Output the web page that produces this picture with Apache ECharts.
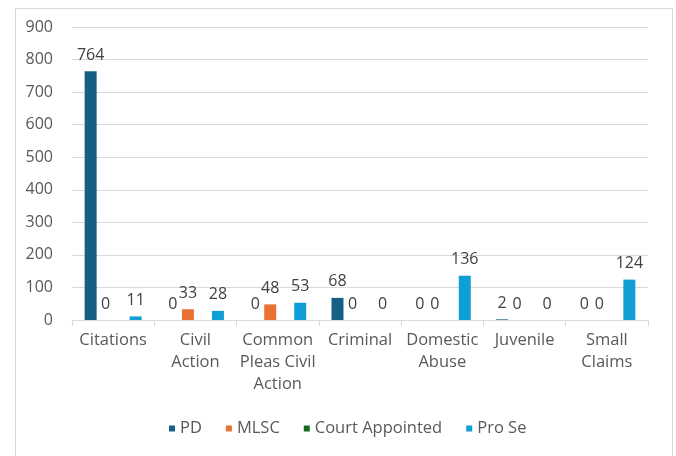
<!DOCTYPE html>
<html>
<head>
<meta charset="utf-8">
<script src="https://cdn.jsdelivr.net/npm/echarts@6/dist/echarts.min.js"></script>
<style>
  html, body { margin: 0; padding: 0; background: #fff; }
  #chart { width: 676px; height: 456px; }
</style>
</head>
<body>
<div id="chart"></div>
<script>
// Case categories (x axis)
const categories = [
  'Citations', 'Civil\nAction', 'Common\nPleas Civil\nAction', 'Criminal',
  'Domestic\nAbuse', 'Juvenile', 'Small\nClaims'
];
// Case counts by representation type
const pd             = [764, 0, 0, 68, 0, 2, 0];
const mlsc           = [0, 33, 48, 0, 0, 0, 0];
const courtAppointed = [null, null, null, null, null, null, null];
const proSe          = [11, 28, 53, 0, 136, 0, 124];
const yTicks = { min: 0, max: 900, interval: 100 };

const FONT = '"Open Sans", sans-serif';
const labelStyle = {
  show: true, position: 'top', distance: 8,
  color: '#404040', fontSize: 16, fontFamily: FONT
};

function bar(name, data, color, withLabel) {
  return {
    name, type: 'bar', data,
    barWidth: 12, barGap: '25%',
    itemStyle: { color },
    label: withLabel ? labelStyle : { show: false }
  };
}

const chart = echarts.init(document.getElementById('chart'), null, { renderer: 'canvas' });
chart.setOption({
  animation: false,
  backgroundColor: '#fff',
  textStyle: { fontFamily: FONT },
  graphic: [{
    type: 'rect', left: 13, top: 6,
    shape: { width: 657, height: 460 },
    style: { fill: 'none', stroke: '#d9d9d9', lineWidth: 1 }
  }],
  grid: { left: 72, right: 28, top: 27, bottom: 136 },
  legend: {
    bottom: 14, left: 164,
    itemWidth: 6, itemHeight: 6, itemGap: 24,
    icon: 'rect',
    textStyle: { color: '#595959', fontSize: 16.5, fontFamily: FONT },
    data: ['PD', 'MLSC', 'Court Appointed', 'Pro Se']
  },
  xAxis: {
    type: 'category', data: categories,
    axisLine: { lineStyle: { color: '#d9d9d9' } },
    axisTick: { show: true, length: 6, lineStyle: { color: '#d9d9d9' } },
    axisLabel: { color: '#595959', fontSize: 16.5, fontFamily: FONT, lineHeight: 22, margin: 9, interval: 0 }
  },
  yAxis: {
    type: 'value', min: yTicks.min, max: yTicks.max, interval: yTicks.interval,
    axisLine: { show: false }, axisTick: { show: false },
    axisLabel: { color: '#595959', fontSize: 16, fontFamily: FONT, margin: 19 },
    splitLine: { lineStyle: { color: '#d9d9d9' } }
  },
  series: [
    bar('PD', pd, '#156082', true),
    bar('MLSC', mlsc, '#E97132', true),
    bar('Court Appointed', courtAppointed, '#196B24', false),
    bar('Pro Se', proSe, '#0F9ED5', true)
  ]
});
</script>
</body>
</html>
